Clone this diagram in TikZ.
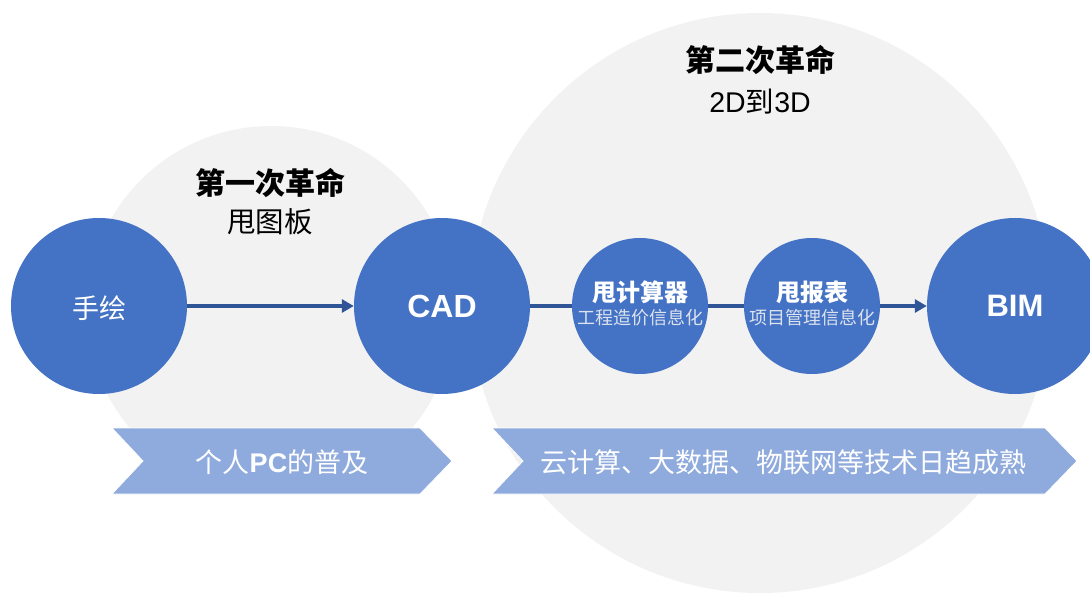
\documentclass[tikz,border=0pt]{standalone}
\usepackage{fontspec}
\setmainfont{Liberation Sans}
\newfontfamily\cjk{Noto Sans CJK SC}
\usetikzlibrary{arrows.meta}
\definecolor{bgray}{HTML}{F2F2F2}
\definecolor{cblue}{HTML}{4472C4}
\definecolor{lblue}{HTML}{8FAADC}
\definecolor{dblue}{HTML}{2F5597}
\definecolor{subtxt}{HTML}{DCE3EE}
\tikzset{
  graycirc/.style={circle, fill=bgray, inner sep=0pt},
  bluebig/.style={circle, fill=cblue, inner sep=0pt, minimum size=176pt, text=white, align=center},
  bluesmall/.style={circle, fill=cblue, inner sep=0pt, minimum size=136pt, text=white, align=center},
  conn/.style={draw=dblue, line width=4pt},
  arr/.style={-{Triangle[length=12pt,width=13pt]}},
  chev/.style={fill=lblue, draw=white, line width=0.8pt},
  title/.style={text=black, inner sep=0pt},
  chevtxt/.style={text=white, inner sep=0pt},
}
\newcommand{\fs}[1]{\fontsize{#1}{#1}\selectfont}
\begin{document}
\begin{tikzpicture}[x=1pt,y=-1pt]
\useasboundingbox (0,0) rectangle (1090,596);
% background circles
\node[graycirc, minimum size=368pt] (rev1) at (271,310) {};
\node[graycirc, minimum size=580pt] (rev2) at (760,303) {};
% titles
\node[title] (t1a) at (270,183) {\fs{30}\cjk\bfseries 第一次革命};
\node[title] (t1b) at (270,222) {\fs{28.5}\cjk 甩图板};
\node[title] (t2a) at (760,60) {\fs{30}\cjk\bfseries 第二次革命};
\node[title] (t2b) at (760,102) {\fs{28.5}2D{\cjk 到}3D};
% chevrons
\fill[chev] (112,428) -- (420,428) -- (452,461) -- (420,494) -- (112,494) -- (143,461) -- cycle;
\fill[chev] (492,428) -- (1045,428) -- (1077,461) -- (1045,494) -- (492,494) -- (523,461) -- cycle;
\node[chevtxt] (c1) at (282,462) {\fs{27}\cjk 个人{\fontspec{Liberation Sans}\bfseries PC}的普及};
\node[chevtxt] (c2) at (783,462) {\fs{27}\cjk 云计算、大数据、物联网等技术日趋成熟};
% process circles
\node[bluebig] (hand) at (99,306) {};
\node[text=white, inner sep=0pt] (hand1) at (99,308) {\fs{27}\cjk 手绘};
\node[bluebig] (cad) at (442,306) {\fs{32}\bfseries CAD};
\node[bluesmall] (calc) at (640,306) {};
\node[bluesmall] (rep) at (812,306) {};
\node[bluebig] (bim) at (1015,306) {\fs{31}\bfseries BIM};
\node[text=white, inner sep=0pt] (calc1) at (640,292) {\fs{24}\cjk\bfseries 甩计算器};
\node[text=subtxt, inner sep=0pt] (calc2) at (640,318) {\fs{18}\cjk 工程造价信息化};
\node[text=white, inner sep=0pt] (rep1) at (812,292) {\fs{24}\cjk\bfseries 甩报表};
\node[text=subtxt, inner sep=0pt] (rep2) at (812,318) {\fs{18}\cjk 项目管理信息化};
% connectors
\draw[conn, arr] (hand) -- (cad);
\draw[conn] (cad) -- (calc);
\draw[conn] (calc) -- (rep);
\draw[conn, arr] (rep) -- (bim);
\end{tikzpicture}
\end{document}
